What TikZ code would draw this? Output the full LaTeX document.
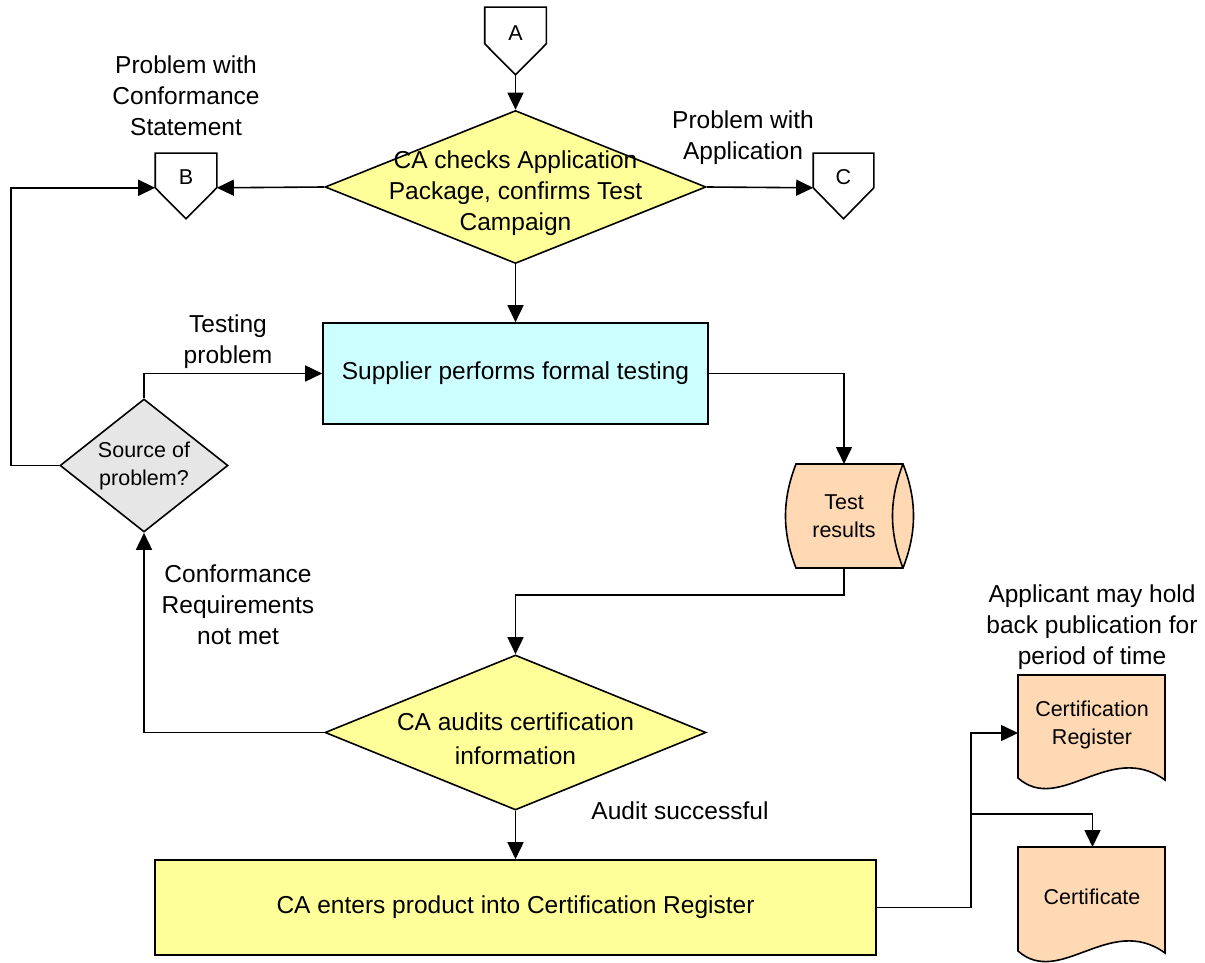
\documentclass[tikz,border=0pt]{standalone}
\usepackage{fontspec}
\setmainfont{Liberation Sans}
\usetikzlibrary{shapes.geometric,arrows.meta,calc}
\definecolor{cyellow}{HTML}{FFFF99}
\definecolor{ccyan}{HTML}{CCFFFF}
\definecolor{cpeach}{HTML}{FFD9B3}
\definecolor{cgray}{HTML}{E6E6E6}
\begin{document}
\begin{tikzpicture}[x=1pt,y=-1pt,line width=1.6pt,
  arr/.style={-{Triangle[length=17pt,width=16pt]}},
  lbl/.style={align=center,font=\fontsize{24.5}{31}\selectfont,inner sep=0pt},
  sml/.style={align=center,font=\fontsize{21.5}{28}\selectfont,inner sep=0pt},
  dia/.style={diamond,draw,inner sep=0pt},
  conbox/.style={minimum width=60pt,minimum height=33pt,inner sep=0pt},
  procbox/.style={draw,inner sep=0pt,font=\fontsize{24.5}{31}\selectfont}]
\useasboundingbox (0,0) rectangle (1205,963);

% off-page connectors
\node[conbox,minimum height=35pt] (A) at (515.5,25.5) {};
\coordinate (Ap) at ($(A.south)+(0,31)$);
\draw[fill=white] (A.north west) -- (A.north east) -- (A.south east) -- (Ap) -- (A.south west) -- cycle;
\node[sml] (Atxt) at (515.5,33) {A};

\node[conbox] (B) at (186,170.5) {};
\coordinate (Bp) at ($(B.south)+(0,31)$);
\draw[fill=white] (B.north west) -- (B.north east) -- (B.south east) -- (Bp) -- (B.south west) -- cycle;
\node[sml] (Btxt) at (186,177) {B};

\node[conbox,minimum width=59pt] (C) at (843.5,170.5) {};
\coordinate (Cp) at ($(C.south)+(0,31)$);
\draw[fill=white] (C.north west) -- (C.north east) -- (C.south east) -- (Cp) -- (C.south west) -- cycle;
\node[sml] (Ctxt) at (843.5,177) {C};

% decisions
\node[dia,fill=cyellow,minimum width=381pt,minimum height=153pt] (d1) at (515.5,187) {};
\node[lbl] (d1txt) at (515.5,193) {CA checks Application\\Package, confirms Test\\Campaign};

\node[dia,fill=cgray,minimum width=168pt,minimum height=133pt] (src) at (144,465.5) {};
\node[sml] (srctxt) at (144,466) {Source of\\problem?};

\node[dia,fill=cyellow,minimum width=381pt,minimum height=155pt] (d2) at (515.5,732.5) {};
\node[lbl,font=\fontsize{24.5}{34}\selectfont] (d2txt) at (515.5,739) {CA audits certification\\information};

% processes
\node[procbox,fill=ccyan,minimum width=385pt,minimum height=101pt] (sup) at (515.5,373.5) {Supplier performs formal testing};
\node[procbox,fill=cyellow,minimum width=721pt,minimum height=95pt] (ca) at (515.5,907.5) {CA enters product into Certification Register};

% test results (stored data)
\draw[fill=cpeach] (796,464) -- (903,464) .. controls (917,500) and (917,532) .. (903,568) -- (796,568) .. controls (782,532) and (782,500) .. (796,464) -- cycle;
\draw (903,464) .. controls (889,500) and (889,532) .. (903,568);
\node[sml] (tr) at (844,516) {Test\\results};
\coordinate (trtop) at (844,464);
\coordinate (trbot) at (844,568);

% documents
\draw[fill=cpeach] (1018,675) -- (1165,675) -- (1165,780) .. controls (1110,740) and (1060,815) .. (1018,778) -- cycle;
\node[sml] (reg) at (1092,724.5) {Certification\\Register};
\coordinate (regin) at (1018,733);

\draw[fill=cpeach] (1018,847) -- (1165,847) -- (1165,953) .. controls (1110,913) and (1060,988) .. (1018,951) -- cycle;
\node[sml] (cert) at (1092,897) {Certificate};
\coordinate (certin) at (1092.5,847);

% labels
\node[lbl] (l1) at (186,96) {Problem with\\Conformance\\Statement};
\node[lbl] (l2) at (743,137.5) {Problem with\\Application};
\node[lbl] (l3) at (228,342) {Testing\\problem};
\node[lbl] (l4) at (238,605) {Conformance\\Requirements\\not met};
\node[lbl] (l5) at (1092,627) {Applicant may hold\\back publication for\\period of time};
\node[lbl] (l6) at (680,811) {Audit successful};

% connectors
\draw[arr] (Ap) -- (d1.north);
\draw[arr] (d1.west) -- (B.south east);
\draw[arr] (d1.east) -- (C.south west);
\draw[arr] (d1.south) -- (sup.north);
\draw[arr] (src.north) |- (sup.west);
\draw[arr] (src.west) -- ++(-48,0) |- (B.south west);
\draw[arr] (sup.east) -| (trtop);
\draw[arr] (trbot) -- ++(0,27) -| (d2.north);
\draw[arr] (d2.west) -| (src.south);
\draw[arr] (d2.south) -- (ca.north);
\coordinate (j) at (971,814);
\draw (ca.east) -| (j);
\draw[arr] (j) |- (regin);
\draw[arr] (j) -| (certin);
\end{tikzpicture}
\end{document}
